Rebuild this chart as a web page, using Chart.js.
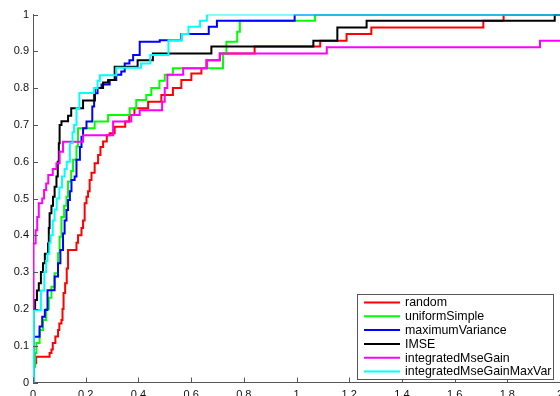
<!DOCTYPE html>
<html>
<head>
<meta charset="utf-8">
<script src="https://cdn.jsdelivr.net/npm/chart.js@4.4.1/dist/chart.umd.min.js"></script>
<style>
  html, body { margin: 0; padding: 0; background: #fff; }
  #wrap { width: 560px; height: 396px; }
</style>
</head>
<body>
<div id="wrap"><canvas id="roc" width="560" height="396"></canvas></div>
<script>
// legend order = plot order
const seriesNames = ['random', 'uniformSimple', 'maximumVariance', 'IMSE', 'integratedMseGain', 'integratedMseGainMaxVar'];
const seriesColors = ['#ff0000', '#00ff00', '#0000ff', '#000000', '#ff00ff', '#00ffff'];

// step points: y jumps to the given value at the given x
const randomX = [0, 0.004, 0.012, 0.063, 0.07, 0.075, 0.085, 0.095, 0.1, 0.108, 0.112, 0.116, 0.122, 0.128, 0.133, 0.165, 0.171, 0.184, 0.19, 0.196, 0.203, 0.209, 0.215, 0.222, 0.234, 0.247, 0.256, 0.266, 0.28, 0.291, 0.31, 0.35, 0.365, 0.385, 0.437, 0.487, 0.531, 0.563, 0.601, 0.639, 0.658, 0.709, 0.841, 1.09, 1.19, 1.284, 1.709, 1.786, 2];
const randomY = [0, 0.052, 0.07, 0.08, 0.09, 0.107, 0.125, 0.143, 0.16, 0.17, 0.2, 0.243, 0.27, 0.31, 0.36, 0.38, 0.4, 0.42, 0.44, 0.487, 0.505, 0.52, 0.55, 0.57, 0.596, 0.618, 0.64, 0.655, 0.672, 0.677, 0.695, 0.709, 0.727, 0.745, 0.763, 0.781, 0.8, 0.822, 0.84, 0.854, 0.876, 0.894, 0.913, 0.929, 0.947, 0.965, 0.983, 1, 1];

const uniformX = [0, 0.002, 0.008, 0.013, 0.025, 0.038, 0.05, 0.06, 0.07, 0.082, 0.095, 0.101, 0.108, 0.118, 0.127, 0.133, 0.145, 0.152, 0.165, 0.171, 0.234, 0.285, 0.367, 0.392, 0.43, 0.449, 0.48, 0.5, 0.531, 0.721, 0.734, 0.775, 0.785, 1.07, 2];
const uniformY = [0, 0.043, 0.08, 0.107, 0.143, 0.17, 0.2, 0.23, 0.26, 0.297, 0.351, 0.396, 0.45, 0.48, 0.505, 0.546, 0.575, 0.605, 0.641, 0.691, 0.709, 0.727, 0.745, 0.768, 0.781, 0.8, 0.82, 0.836, 0.854, 0.894, 0.926, 0.953, 0.983, 1, 1];

const maxVarX = [0, 0.004, 0.025, 0.035, 0.045, 0.055, 0.082, 0.095, 0.104, 0.114, 0.12, 0.127, 0.133, 0.14, 0.146, 0.158, 0.165, 0.178, 0.184, 0.19, 0.203, 0.225, 0.232, 0.245, 0.26, 0.291, 0.316, 0.335, 0.348, 0.366, 0.38, 0.405, 0.481, 0.563, 0.667, 0.698, 0.993, 2];
const maxVarY = [0, 0.124, 0.152, 0.179, 0.197, 0.251, 0.288, 0.324, 0.36, 0.405, 0.44, 0.469, 0.496, 0.52, 0.55, 0.56, 0.605, 0.64, 0.668, 0.691, 0.709, 0.75, 0.786, 0.8, 0.81, 0.822, 0.836, 0.845, 0.867, 0.876, 0.89, 0.926, 0.93, 0.947, 0.967, 0.983, 1, 1];

const imseX = [0, 0.002, 0.008, 0.015, 0.022, 0.03, 0.038, 0.045, 0.057, 0.06, 0.063, 0.07, 0.076, 0.082, 0.089, 0.094, 0.098, 0.101, 0.108, 0.133, 0.145, 0.19, 0.235, 0.266, 0.285, 0.31, 0.397, 0.455, 0.677, 1.064, 1.155, 1.266, 1.98, 2];
const imseY = [0, 0.2, 0.224, 0.25, 0.27, 0.3, 0.324, 0.35, 0.378, 0.42, 0.46, 0.48, 0.505, 0.532, 0.56, 0.6, 0.65, 0.7, 0.71, 0.725, 0.745, 0.766, 0.8, 0.815, 0.822, 0.858, 0.876, 0.894, 0.913, 0.929, 0.965, 0.983, 1, 1];

const mseGainX = [0, 0.002, 0.01, 0.016, 0.022, 0.035, 0.042, 0.05, 0.058, 0.075, 0.089, 0.101, 0.114, 0.19, 0.304, 0.373, 0.405, 0.49, 0.5, 0.51, 0.57, 0.66, 0.709, 1.115, 1.924, 2];
const mseGainY = [0, 0.378, 0.414, 0.45, 0.487, 0.5, 0.523, 0.541, 0.564, 0.58, 0.596, 0.627, 0.654, 0.672, 0.709, 0.727, 0.74, 0.763, 0.8, 0.836, 0.854, 0.876, 0.894, 0.911, 0.929, 0.929];

const mseGainMaxVarX = [0, 0.003, 0.03, 0.043, 0.05, 0.055, 0.062, 0.067, 0.075, 0.082, 0.09, 0.1, 0.11, 0.12, 0.128, 0.14, 0.15, 0.156, 0.165, 0.176, 0.232, 0.245, 0.254, 0.316, 0.41, 0.445, 0.514, 0.565, 0.59, 0.634, 0.66, 2];
const mseGainMaxVarY = [0, 0.197, 0.25, 0.3, 0.33, 0.35, 0.38, 0.4, 0.44, 0.47, 0.5, 0.53, 0.56, 0.58, 0.6, 0.65, 0.68, 0.7, 0.745, 0.787, 0.8, 0.82, 0.835, 0.855, 0.867, 0.89, 0.93, 0.947, 0.967, 0.983, 1, 1];

const xTickValues = [0, 0.2, 0.4, 0.6, 0.8, 1, 1.2, 1.4, 1.6, 1.8, 2];
const xTickLabels = ['0', '0.2', '0.4', '0.6', '0.8', '1', '1.2', '1.4', '1.6', '1.8', '2'];
const yTickValues = [0, 0.1, 0.2, 0.3, 0.4, 0.5, 0.6, 0.7, 0.8, 0.9, 1];
const yTickLabels = ['0', '0.1', '0.2', '0.3', '0.4', '0.5', '0.6', '0.7', '0.8', '0.9', '1'];

const allX = [randomX, uniformX, maxVarX, imseX, mseGainX, mseGainMaxVarX];
const allY = [randomY, uniformY, maxVarY, imseY, mseGainY, mseGainMaxVarY];

function toPoints(xs, ys) {
  return xs.map((x, i) => ({ x: x, y: ys[i] }));
}

const axisColor = '#555';
const tickFont = { family: 'Liberation Sans, Arial, sans-serif', size: 11 };

// MATLAB style ticks pointing into the plot
const inwardTicks = {
  id: 'inwardTicks',
  afterDraw(chart) {
    const ctx = chart.ctx;
    const area = chart.chartArea;
    const xs = chart.scales.x;
    const ys = chart.scales.y;
    ctx.save();
    ctx.strokeStyle = axisColor;
    ctx.lineWidth = 1;
    ctx.beginPath();
    xTickValues.forEach(v => {
      const px = Math.round(xs.getPixelForValue(v)) + 0.5;
      ctx.moveTo(px, area.bottom);
      ctx.lineTo(px, area.bottom - 5);
    });
    yTickValues.forEach(v => {
      const py = Math.round(ys.getPixelForValue(v)) + 0.5;
      ctx.moveTo(area.left, py);
      ctx.lineTo(area.left + 5, py);
    });
    ctx.stroke();
    ctx.restore();
  }
};

// legend box in the lower right corner
const boxLegend = {
  id: 'boxLegend',
  afterDraw(chart) {
    const ctx = chart.ctx;
    const left = 357.5, top = 294.5, right = 553.5, bottom = 379.5;
    ctx.save();
    ctx.fillStyle = '#fff';
    ctx.fillRect(left, top, right - left, bottom - top);
    ctx.strokeStyle = axisColor;
    ctx.lineWidth = 1;
    ctx.strokeRect(left, top, right - left, bottom - top);
    ctx.font = '12.4px Liberation Sans, Arial, sans-serif';
    ctx.textBaseline = 'middle';
    ctx.textAlign = 'left';
    chart.data.datasets.forEach((ds, i) => {
      const y = 302.5 + i * 13.8;
      ctx.strokeStyle = ds.borderColor;
      ctx.lineWidth = 2;
      ctx.beginPath();
      ctx.moveTo(364, y);
      ctx.lineTo(400, y);
      ctx.stroke();
      ctx.fillStyle = '#000';
      ctx.fillText(ds.label, 405, y + 0.5);
    });
    ctx.restore();
  }
};

new Chart(document.getElementById('roc'), {
  type: 'line',
  data: {
    datasets: seriesNames.map((name, i) => ({
      label: name,
      data: toPoints(allX[i], allY[i]),
      borderColor: seriesColors[i],
      backgroundColor: seriesColors[i],
      borderWidth: 2,
      pointRadius: 0,
      stepped: true,
      fill: false,
      order: seriesNames.length - i
    }))
  },
  options: {
    responsive: false,
    animation: false,
    layout: { padding: { top: 14.5, right: 0, left: 0, bottom: 0 } },
    plugins: {
      legend: { display: false },
      tooltip: { enabled: false }
    },
    scales: {
      x: {
        type: 'linear',
        min: 0,
        max: 2,
        afterBuildTicks: s => { s.ticks = xTickValues.map(v => ({ value: v })); },
        afterFit: s => { s.height = 13.5; s.paddingLeft = 0; s.paddingRight = 0; },
        ticks: {
          callback: (v, i) => xTickLabels[i],
          font: tickFont,
          color: '#111',
          padding: 5.5,
          maxRotation: 0,
          autoSkip: false
        },
        grid: { display: true, drawOnChartArea: false, drawTicks: false },
        border: { display: true, color: axisColor, width: 1 }
      },
      y: {
        type: 'linear',
        min: 0,
        max: 1,
        afterBuildTicks: s => { s.ticks = yTickValues.map(v => ({ value: v })); },
        afterFit: s => { s.width = 33; s.paddingTop = 0; s.paddingBottom = 0; },
        ticks: {
          callback: (v, i) => yTickLabels[i],
          font: tickFont,
          color: '#111',
          padding: 4,
          autoSkip: false
        },
        grid: { display: true, drawOnChartArea: false, drawTicks: false },
        border: { display: true, color: axisColor, width: 1 }
      }
    }
  },
  plugins: [inwardTicks, boxLegend]
});
</script>
</body>
</html>
